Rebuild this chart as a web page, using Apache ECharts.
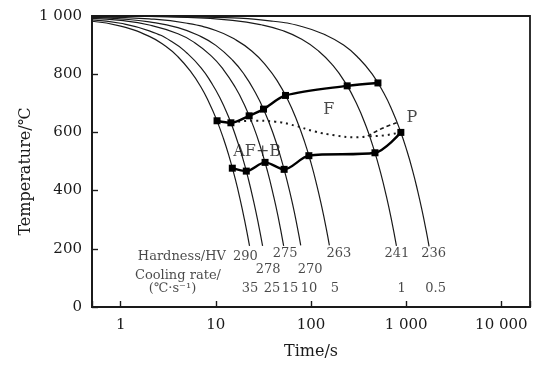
<!DOCTYPE html>
<html>
<head>
<meta charset="utf-8">
<script src="https://cdn.jsdelivr.net/npm/echarts@6/dist/echarts.min.js"></script>
<style>
  html, body { margin: 0; padding: 0; background: #fff; }
  #chart { width: 537px; height: 365px; }
</style>
</head>
<body>
<div id="chart"></div>
<script>
// cooling curves, [time s, temperature C]
const curve290 = [[0.5, 982], [1, 965], [2, 930], [3, 895], [4, 860], [5.5, 807], [7, 755], [8.5, 702], [10, 650], [12, 580], [14, 510], [16, 440], [18, 370], [20, 300], [22.6, 210]]
const curve278 = [[0.5, 987], [1, 975], [2, 949], [3.5, 911], [5, 872], [7, 822], [9, 770], [11, 720], [13.5, 656], [16, 592], [19, 516], [22, 439], [25, 362], [28, 286], [31, 210]]
const curve275 = [[0.5, 992], [1, 985], [2, 969], [4, 939], [6, 908], [9, 862], [12, 816], [16, 755], [20, 694], [25, 618], [30, 541], [35, 465], [40, 388], [45, 312], [51.6, 210]]
const curve270 = [[0.5, 995], [1, 990], [2, 980], [4, 960], [7, 929], [10, 899], [15, 848], [20, 798], [26, 737], [32, 677], [40, 596], [48, 515], [56, 434], [64, 354], [72, 273], [78, 212]]
const curve263 = [[0.5, 997], [2, 990], [5, 975], [10, 950], [16, 919], [24, 879], [34, 828], [45, 773], [57, 712], [70, 646], [85, 571], [100, 495], [115, 419], [130, 343], [145, 268], [156, 212]]
const curve241 = [[0.5, 1000], [5, 995], [15, 985], [30, 970], [50, 950], [80, 920], [120, 880], [170, 830], [230, 770], [300, 700], [380, 620], [460, 540], [540, 460], [620, 380], [700, 300], [790, 210]]
const curve236 = [[0.5, 1000], [10, 995], [40, 982], [80, 964], [140, 936], [220, 900], [320, 854], [440, 800], [580, 736], [720, 672], [870, 604], [1020, 536], [1170, 468], [1320, 399], [1470, 331], [1620, 263], [1740, 208]]

// transformation lines
const ferriteStart = [[10.3, 640], [14.4, 633], [22.4, 657], [31.7, 680], [54, 727], [240, 760], [505, 770]]
const bainiteStart = [[14.9, 477], [20.9, 467], [32.9, 497], [52.2, 473], [95, 520], [470, 530], [879, 600]]
const dottedMain = [[17.2, 637], [24.7, 640], [42, 637], [68, 623], [110, 603], [178, 590], [289, 583], [395, 587]]
const dashedUpper = [[395, 587], [528, 610], [795, 633]]
const dottedLower = [[415, 587], [596, 590], [855, 600]]

// annotation texts
const hardness = ["290", "278", "275", "270", "263", "241", "236"]
const hardnessPos = [[20.4, 173], [35.5, 130], [53.5, 183], [97.9, 130], [196, 183], [800, 183], [1940, 183]]
const coolingRates = ["35", "25", "15", "10", "5", "1", "0.5"]
const ratePos = [[22.9, 63], [39, 63], [60.1, 63], [95.5, 63], [178, 63], [898, 63], [2040, 63]]
const phaseNames = ["F", "P", "AF+B"]
const phasePos = [[154, 677], [1148, 650], [27.2, 533]]
const legendTexts = ["Hardness/HV", "Cooling rate/", "(℃·s⁻¹)"]
const legendPos = [[4.4, 173], [4.0, 107], [3.5, 63]]

const FONT = "DejaVu Serif"
const INK = "#1a1a1a"

function thousands(v) {
  return String(Math.round(v)).replace(/\B(?=(\d{3})+(?!\d))/g, " ")
}

const chart = echarts.init(document.getElementById("chart"))

const curveSeries = [curve290, curve278, curve275, curve270, curve263, curve241, curve236].map((c) => ({
  type: "line",
  data: c,
  smooth: true,
  showSymbol: false,
  lineStyle: { color: INK, width: 1.2 },
  z: 2,
}))

function textSeries(texts, pos, size) {
  return {
    type: "scatter",
    symbolSize: 0,
    data: pos.map((p, i) => [p[0], p[1], texts[i]]),
    label: {
      show: true,
      position: "inside",
      formatter: (p) => p.data[2],
      fontFamily: FONT,
      fontSize: size,
      color: INK,
      align: "center",
      verticalAlign: "middle",
    },
    silent: true,
    z: 5,
  }
}

chart.setOption({
  animation: false,
  grid: {
    left: 92, right: 7, top: 16, bottom: 48,
    show: true, borderColor: INK, borderWidth: 1.8,
  },
  xAxis: {
    type: "log",
    logBase: 10,
    min: 0.5,
    max: 20000,
    name: "Time/s",
    nameLocation: "middle",
    nameGap: 37,
    nameTextStyle: { fontFamily: FONT, fontSize: 16, color: INK },
    axisLine: { lineStyle: { color: INK, width: 1.8 } },
    axisTick: { inside: true, length: 6, lineStyle: { color: INK, width: 1.4 } },
    axisLabel: {
      fontFamily: FONT, fontSize: 15, color: INK, margin: 11,
      formatter: (v) => (v < 0.9 || v > 15000 ? "" : thousands(v)),
    },
    splitLine: { show: false },
  },
  yAxis: {
    type: "value",
    min: 0,
    max: 1000,
    interval: 200,
    name: "Temperature/℃",
    nameLocation: "middle",
    nameGap: 58,
    nameMoveOverlap: false,
    nameTextStyle: { fontFamily: FONT, fontSize: 16, color: INK, padding: [0, 20, 0, 0] },
    axisLine: { lineStyle: { color: INK, width: 1.8 } },
    axisTick: { inside: true, length: 6, lineStyle: { color: INK, width: 1.4 } },
    axisLabel: {
      fontFamily: FONT, fontSize: 15, color: INK, margin: 10,
      formatter: (v) => thousands(v),
    },
    splitLine: { show: false },
  },
  series: [
    ...curveSeries,
    {
      type: "line", data: ferriteStart, smooth: 0.3,
      symbol: "rect", symbolSize: 7,
      lineStyle: { color: "#000", width: 2.4 },
      itemStyle: { color: "#000" },
      z: 4,
    },
    {
      type: "line", data: bainiteStart, smooth: 0.3,
      symbol: "rect", symbolSize: 7,
      lineStyle: { color: "#000", width: 2.4 },
      itemStyle: { color: "#000" },
      z: 4,
    },
    {
      type: "line", data: dottedMain, smooth: true, showSymbol: false,
      lineStyle: { color: INK, width: 2, type: [2, 4] },
      z: 3,
    },
    {
      type: "line", data: dashedUpper, smooth: true, showSymbol: false,
      lineStyle: { color: INK, width: 1.6, type: [4, 3] },
      z: 3,
    },
    {
      type: "line", data: dottedLower, smooth: true, showSymbol: false,
      lineStyle: { color: INK, width: 2, type: [2, 4] },
      z: 3,
    },
    textSeries(hardness, hardnessPos, 13),
    textSeries(coolingRates, ratePos, 13),
    textSeries(phaseNames, phasePos, 16),
    textSeries(legendTexts, legendPos, 13),
  ],
})
</script>
</body>
</html>
